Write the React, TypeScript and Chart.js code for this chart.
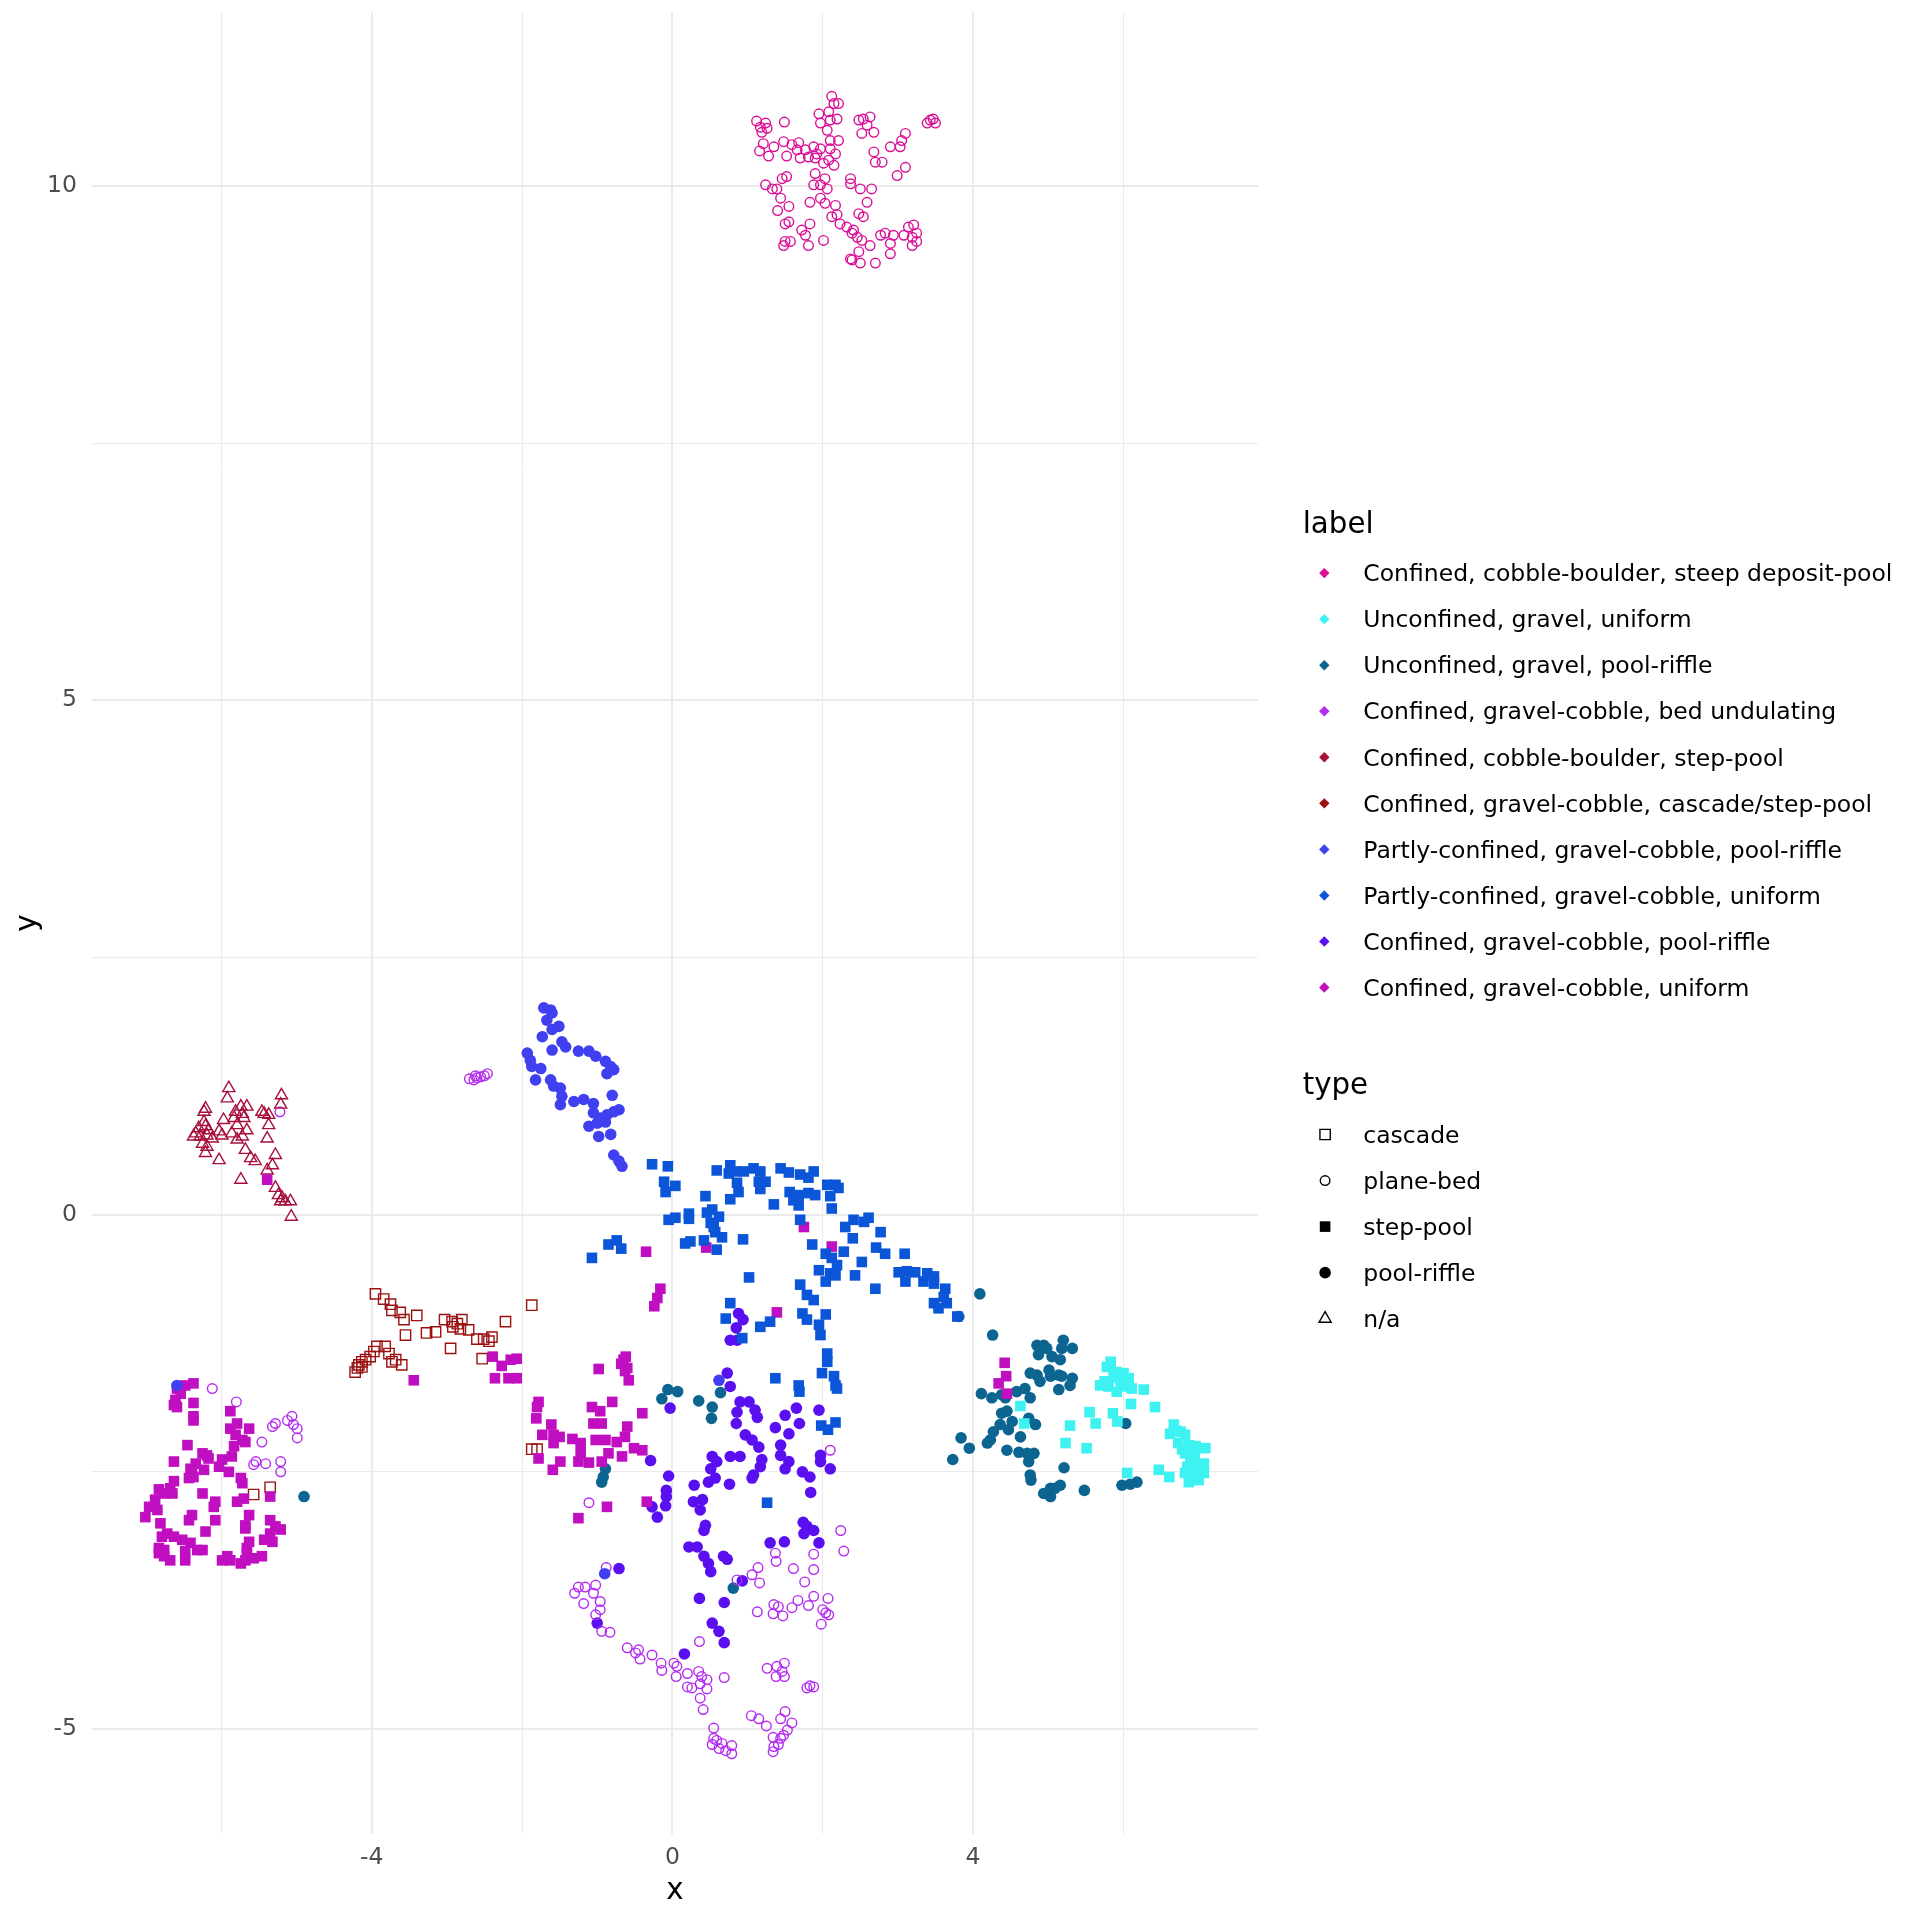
import React, { useEffect, useRef } from "react";
import { Chart, registerables } from "chart.js";

Chart.register(...registerables);

type Pt = [number, number];

const FONT = '"DejaVu Sans", "Liberation Sans", sans-serif';

const labelNames = [
  "Confined, cobble-boulder, steep deposit-pool",
  "Unconfined, gravel, uniform",
  "Unconfined, gravel, pool-riffle",
  "Confined, gravel-cobble, bed undulating",
  "Confined, cobble-boulder, step-pool",
  "Confined, gravel-cobble, cascade/step-pool",
  "Partly-confined, gravel-cobble, pool-riffle",
  "Partly-confined, gravel-cobble, uniform",
  "Confined, gravel-cobble, pool-riffle",
  "Confined, gravel-cobble, uniform",
];
const labelColors = [
  "#DA0E95",
  "#3EF2F2",
  "#0B6590",
  "#B32AF0",
  "#A8103C",
  "#9B1111",
  "#4040F0",
  "#0B55D8",
  "#5A0FF0",
  "#C00FC0",
];
const typeNames = ["cascade", "plane-bed", "step-pool", "pool-riffle", "n/a"];

const xGridValues = [-6, -4, -2, 0, 2, 4, 6];
const xLabeledTicks = [-4, 0, 4];
const yGridValues = [-5, -2.5, 0, 2.5, 5, 7.5, 10];
const yLabeledTicks = [-5, 0, 5, 10];
const xRange = [-7.72, 7.79];
const yRange = [-6.02, 11.69];

const steepDepositPool: Pt[] = [
  [1.12,10.63],[1.17,10.57],[1.24,10.61],[1.19,10.52],[1.26,10.56],[1.49,10.62],[1.21,10.41],[1.16,10.34],[1.28,10.29],[1.35,10.38],
  [1.48,10.43],[1.52,10.29],[1.59,10.40],[1.66,10.35],[1.70,10.27],[1.68,10.42],[1.77,10.35],[1.81,10.28],[1.88,10.38],[1.92,10.31],
  [1.97,10.36],[1.95,10.70],[1.97,10.61],[2.06,10.54],[2.10,10.64],[2.08,10.72],[2.15,10.80],[2.12,10.87],[2.21,10.80],[2.19,10.65],
  [2.21,10.44],[2.10,10.44],[2.10,10.36],[2.17,10.31],[2.08,10.25],[2.15,10.20],[2.01,10.22],[1.90,10.27],[1.90,10.12],[1.88,10.01],
  [1.97,10.01],[2.03,10.07],[2.06,9.97],[1.97,9.88],[1.83,9.84],[2.03,9.83],[2.17,9.81],[2.12,9.70],[2.19,9.72],[2.23,9.63],
  [2.32,9.60],[2.41,9.57],[2.46,9.50],[2.52,9.47],[2.39,9.54],[2.37,10.07],[2.37,10.02],[2.50,9.97],[2.65,9.97],[2.59,9.84],
  [2.48,9.73],[2.54,9.70],[2.63,9.42],[2.48,9.36],[2.37,9.29],[2.50,9.25],[2.70,9.25],[2.39,9.28],[1.24,10.01],[1.33,9.97],
  [1.39,9.97],[1.46,10.07],[1.52,10.09],[1.44,9.88],[1.55,9.80],[1.40,9.76],[1.50,9.63],[1.55,9.65],[1.50,9.46],[1.48,9.42],
  [1.57,9.46],[1.72,9.57],[1.77,9.52],[1.83,9.63],[1.81,9.42],[2.01,9.47],[2.48,10.64],[2.54,10.65],[2.63,10.67],[2.59,10.59],
  [2.52,10.51],[2.68,10.52],[2.68,10.33],[2.70,10.23],[2.79,10.23],[2.90,10.38],[3.03,10.38],[3.05,10.44],[3.10,10.51],[3.10,10.18],
  [2.99,10.10],[2.77,9.52],[2.83,9.54],[2.90,9.44],[2.94,9.52],[3.08,9.52],[3.14,9.60],[3.21,9.62],[3.19,9.50],[3.25,9.54],
  [3.19,9.42],[3.25,9.46],[2.90,9.34],[3.43,10.64],[3.47,10.65],[3.50,10.61],[3.39,10.61],
];

const gravelUniform: Pt[] = [
  [5.83,-1.43],[5.78,-1.48],[5.91,-1.53],[6.00,-1.54],[6.07,-1.59],[5.69,-1.66],[5.80,-1.67],[5.91,-1.72],[5.98,-1.67],[6.11,-1.69],
  [6.27,-1.70],[5.96,-1.61],[6.10,-1.84],[6.42,-1.87],[4.63,-1.86],[4.68,-2.03],[5.55,-1.92],[5.63,-2.03],[5.86,-1.93],[5.92,-2.01],
  [5.29,-2.05],[5.23,-2.22],[5.51,-2.27],[6.67,-2.04],[6.62,-2.13],[6.76,-2.11],[6.82,-2.14],[6.73,-2.22],[6.87,-2.24],[6.96,-2.25],
  [7.09,-2.27],[6.82,-2.32],[6.89,-2.38],[7.07,-2.42],[6.93,-2.45],[6.82,-2.51],[6.93,-2.55],[7.00,-2.58],[7.07,-2.51],[6.87,-2.60],
  [6.47,-2.48],[6.61,-2.55],[6.05,-2.51],[6.78,-2.28],[6.95,-2.35],[6.85,-2.45],[6.98,-2.48],[6.70,-2.10],[5.87,-1.58],[5.75,-1.62],
];

const gravelPoolRiffle: Pt[] = [
  [4.09,-0.77],[3.81,-0.99],[4.26,-1.17],[4.85,-1.27],[4.94,-1.27],[4.87,-1.36],[4.98,-1.30],[5.05,-1.38],[5.16,-1.41],[5.20,-1.22],
  [5.18,-1.30],[5.32,-1.30],[4.76,-1.54],[4.85,-1.56],[4.89,-1.62],[5.01,-1.51],[5.03,-1.57],[5.14,-1.56],[5.18,-1.57],[5.32,-1.59],
  [5.29,-1.66],[5.14,-1.70],[4.11,-1.74],[4.25,-1.78],[4.38,-1.75],[4.43,-1.78],[4.58,-1.72],[4.69,-1.69],[4.76,-1.78],[4.38,-1.93],
  [4.45,-1.91],[4.52,-2.01],[4.47,-2.09],[4.36,-2.04],[4.27,-2.11],[4.23,-2.19],[4.19,-2.22],[4.74,-1.98],[4.83,-2.04],[4.63,-2.16],
  [4.45,-2.29],[4.61,-2.31],[4.72,-2.32],[4.81,-2.32],[4.74,-2.40],[3.84,-2.17],[3.95,-2.27],[3.73,-2.38],[4.76,-2.53],[4.77,-2.58],
  [5.21,-2.46],[4.94,-2.71],[5.03,-2.74],[5.09,-2.66],[5.16,-2.63],[5.03,-2.66],[5.48,-2.68],[5.98,-2.63],[6.09,-2.62],[6.18,-2.60],
  [6.03,-2.03],[-0.89,-2.47],[-0.92,-2.55],[-0.94,-2.60],[-4.90,-2.74],[0.64,-1.73],[-0.14,-1.79],[-0.06,-1.70],[0.07,-1.72],[0.35,-1.81],
  [0.53,-1.87],[0.52,-1.98],[0.81,-3.63],
];

const bedUndulating: Pt[] = [
  [2.10,-2.29],[2.24,-3.07],[2.28,-3.27],[1.37,-3.29],[1.38,-3.37],[1.61,-3.44],[1.88,-3.30],[1.88,-3.45],[1.76,-3.57],[1.14,-3.43],
  [1.06,-3.50],[1.16,-3.58],[0.86,-3.55],[1.35,-3.79],[1.41,-3.81],[1.34,-3.88],[1.47,-3.90],[1.59,-3.82],[1.67,-3.75],[1.81,-3.80],
  [1.88,-3.71],[2.07,-3.73],[2.00,-3.84],[2.04,-3.87],[2.08,-3.89],[1.98,-3.98],[1.13,-3.86],[-0.88,-3.43],[-1.16,-3.62],[-1.02,-3.60],
  [-1.05,-3.68],[-0.96,-3.76],[-1.18,-3.78],[-0.96,-3.84],[-1.02,-3.89],[-0.94,-4.05],[-0.83,-4.06],[-0.60,-4.21],[-0.49,-4.26],[-0.45,-4.23],
  [-0.43,-4.32],[-0.27,-4.28],[-0.15,-4.36],[-0.14,-4.43],[0.02,-4.36],[0.06,-4.39],[0.05,-4.49],[0.20,-4.46],[0.35,-4.44],[0.39,-4.49],
  [0.37,-4.56],[0.26,-4.60],[0.20,-4.59],[0.46,-4.52],[0.46,-4.61],[0.37,-4.70],[0.41,-4.81],[0.36,-4.15],[0.69,-4.50],[1.26,-4.41],
  [1.39,-4.39],[1.49,-4.36],[1.46,-4.44],[1.38,-4.49],[1.49,-4.49],[1.79,-4.60],[1.83,-4.58],[1.88,-4.59],[1.05,-4.87],[1.15,-4.90],
  [1.25,-4.97],[1.44,-4.90],[1.50,-4.83],[1.59,-4.94],[1.53,-5.01],[1.48,-5.06],[1.44,-5.09],[1.34,-5.08],[1.35,-5.17],[1.34,-5.22],
  [1.41,-5.15],[0.55,-4.99],[0.55,-5.09],[0.59,-5.11],[0.66,-5.14],[0.62,-5.19],[0.71,-5.21],[0.79,-5.24],[0.79,-5.16],[0.53,-5.15],
  [-6.12,-1.69],[-5.80,-1.82],[-5.46,-2.21],[-5.32,-2.06],[-5.28,-2.03],[-5.12,-2.00],[-5.06,-1.96],[-5.04,-2.04],[-4.99,-2.08],[-4.99,-2.17],
  [-5.54,-2.40],[-5.57,-2.43],[-5.41,-2.42],[-5.21,-2.40],[-5.21,-2.50],[-1.11,-2.80],[-5.22,1.00],[-2.70,1.32],[-2.64,1.31],[-2.60,1.33],
  [-2.55,1.34],[-2.50,1.35],[-2.46,1.37],[-2.62,1.35],[-1.30,-3.68],[-1.25,-3.62],
];

const cobbleBoulderStepPool: Pt[] = [
  [-5.90,1.23],[-5.92,1.13],[-6.21,1.03],[-6.23,1.00],[-5.74,1.05],[-5.66,1.05],[-5.81,1.00],[-5.72,0.98],[-5.83,0.94],[-5.70,0.94],
  [-5.97,0.92],[-6.23,0.90],[-6.30,0.84],[-6.34,0.79],[-6.21,0.86],[-6.17,0.82],[-6.37,0.76],[-6.28,0.76],[-6.19,0.77],[-6.12,0.74],
  [-6.03,0.81],[-5.99,0.77],[-5.79,0.87],[-5.66,0.82],[-5.72,0.76],[-5.79,0.73],[-6.25,0.69],[-6.19,0.66],[-6.21,0.60],[-6.03,0.53],
  [-5.68,0.63],[-5.61,0.55],[-5.55,0.52],[-5.74,0.34],[-5.43,0.98],[-5.37,0.97],[-5.37,0.87],[-5.39,0.74],[-5.28,0.58],[-5.32,0.48],
  [-5.39,0.43],[-5.20,1.16],[-5.21,1.07],[-5.28,0.26],[-5.24,0.19],[-5.19,0.16],[-5.15,0.13],[-5.21,0.13],[-5.08,0.13],[-5.07,-0.02],
  [-5.46,1.00],[-5.86,0.79],
];

const cascadeStepPool: Pt[] = [
  [-3.95,-0.77],[-3.84,-0.82],[-3.75,-0.87],[-3.73,-0.93],[-3.62,-0.95],[-3.57,-1.02],[-3.40,-0.98],[-3.55,-1.17],[-3.27,-1.15],[-3.15,-1.14],
  [-3.03,-1.02],[-2.93,-1.04],[-2.92,-1.09],[-2.86,-1.06],[-2.80,-1.02],[-2.82,-1.11],[-2.71,-1.12],[-2.60,-1.21],[-2.51,-1.21],[-2.44,-1.23],
  [-2.40,-1.19],[-2.22,-1.04],[-2.95,-1.30],[-2.53,-1.40],[-1.87,-0.88],[-3.93,-1.28],[-3.97,-1.33],[-4.02,-1.38],[-4.08,-1.41],[-4.13,-1.43],
  [-4.17,-1.46],[-4.19,-1.49],[-4.22,-1.53],[-4.13,-1.48],[-3.82,-1.28],[-3.77,-1.35],[-3.73,-1.43],[-3.68,-1.41],[-3.60,-1.46],[-1.87,-2.28],
  [-1.80,-2.28],[-5.57,-2.72],[-5.35,-2.65],
];

const partlyPoolRiffle: Pt[] = [
  [-1.71,2.01],[-1.62,1.99],[-1.60,1.96],[-1.67,1.89],[-1.51,1.83],[-1.60,1.80],[-1.73,1.73],[-1.47,1.68],[-1.42,1.63],[-1.60,1.60],
  [-1.25,1.59],[-1.11,1.59],[-1.02,1.54],[-0.89,1.49],[-0.82,1.44],[-0.78,1.41],[-0.87,1.37],[-1.93,1.57],[-1.89,1.50],[-1.87,1.44],
  [-1.75,1.42],[-1.82,1.31],[-1.62,1.31],[-1.58,1.25],[-1.49,1.23],[-1.47,1.15],[-1.49,1.07],[-1.31,1.10],[-1.18,1.12],[-1.05,1.08],
  [-1.05,0.99],[-0.96,0.94],[-0.87,0.97],[-0.78,1.00],[-0.71,1.02],[-0.89,0.90],[-1.00,0.89],[-1.11,0.86],[-0.98,0.76],[-0.82,0.78],
  [-0.80,1.16],[-0.78,0.58],[-0.71,0.52],[-0.67,0.47],[-6.59,-1.66],[0.62,-1.61],[-0.90,-3.49],
];

const partlyUniform: Pt[] = [
  [-0.27,0.49],[-0.06,0.47],[-0.11,0.32],[-0.09,0.22],[0.04,0.28],[0.59,0.43],[0.77,0.48],[0.75,0.40],[0.84,0.42],[0.95,0.42],
  [1.08,0.45],[1.17,0.42],[1.15,0.32],[1.24,0.32],[1.17,0.25],[0.86,0.31],[0.88,0.22],[0.77,0.15],[0.44,0.18],[1.44,0.45],
  [1.55,0.41],[1.70,0.39],[1.81,0.36],[1.88,0.42],[1.56,0.22],[1.68,0.19],[1.61,0.14],[1.68,0.09],[1.81,0.21],[1.90,0.19],
  [1.35,0.10],[2.06,0.29],[2.17,0.29],[2.21,0.26],[2.10,0.18],[2.12,0.06],[-0.05,-0.05],[0.04,-0.03],[0.22,0.01],[0.22,-0.04],
  [0.46,0.02],[0.53,0.05],[0.62,-0.02],[0.51,-0.08],[0.55,-0.12],[0.57,-0.17],[0.66,-0.22],[0.17,-0.28],[0.24,-0.26],[0.42,-0.25],
  [0.59,-0.34],[0.94,-0.24],[1.70,-0.05],[2.30,-0.12],[2.41,-0.05],[2.55,-0.07],[2.61,-0.03],[2.77,-0.17],[2.40,-0.23],[2.71,-0.32],
  [2.83,-0.38],[3.09,-0.38],[1.86,-0.29],[2.04,-0.38],[2.12,-0.42],[2.28,-0.36],[2.19,-0.49],[1.95,-0.54],[2.10,-0.57],[2.04,-0.65],
  [2.17,-0.59],[2.52,-0.46],[2.43,-0.59],[2.70,-0.72],[3.01,-0.56],[3.12,-0.55],[3.10,-0.65],[3.23,-0.56],[3.39,-0.57],[3.48,-0.60],
  [3.34,-0.65],[3.48,-0.67],[3.63,-0.72],[3.61,-0.80],[3.48,-0.86],[3.65,-0.86],[3.54,-0.91],[3.79,-0.99],[1.70,-0.68],[1.79,-0.78],
  [1.88,-0.83],[1.73,-0.96],[1.79,-1.02],[2.04,-0.97],[1.95,-1.07],[1.02,-0.61],[0.77,-0.86],[0.71,-1.01],[1.17,-1.09],[1.30,-1.04],
  [-1.07,-0.42],[-0.85,-0.29],[-0.74,-0.25],[-0.68,-0.33],[0.93,-1.20],[1.97,-1.17],[2.06,-1.35],[2.06,-1.43],[1.99,-1.54],[2.15,-1.57],
  [2.17,-1.66],[2.19,-1.69],[1.37,-1.59],[1.68,-1.66],[1.69,-1.72],[1.98,-2.05],[2.07,-2.09],[2.17,-2.02],[1.26,-2.80],
];

const confinedPoolRiffle: Pt[] = [
  [0.77,-1.22],[0.86,-1.22],[0.73,-1.54],[0.77,-1.67],[0.90,-1.82],[1.02,-1.82],[1.10,-1.90],[1.13,-1.97],[0.86,-1.92],[0.85,-2.03],
  [0.97,-2.14],[1.06,-2.19],[1.15,-2.26],[1.37,-2.07],[1.50,-1.95],[1.65,-1.88],[1.69,-2.03],[1.55,-2.13],[1.95,-1.90],[1.44,-2.24],
  [1.44,-2.34],[1.55,-2.40],[1.50,-2.47],[1.19,-2.38],[1.17,-2.45],[1.08,-2.53],[1.06,-2.56],[1.97,-2.34],[1.97,-2.40],[2.10,-2.47],
  [1.73,-2.50],[1.83,-2.55],[1.84,-2.70],[0.77,-2.35],[0.90,-2.35],[0.53,-2.35],[0.59,-2.40],[0.51,-2.47],[0.57,-2.56],[0.48,-2.60],
  [0.76,-2.62],[0.29,-2.63],[0.28,-2.79],[0.40,-2.77],[0.37,-2.87],[0.44,-3.02],[0.42,-3.07],[-0.03,-1.88],[-0.05,-2.54],[-0.08,-2.68],
  [-0.08,-2.74],[-0.09,-2.83],[-0.27,-2.84],[-0.20,-2.94],[-0.29,-2.39],[1.74,-2.99],[1.79,-3.03],[1.88,-3.07],[1.95,-3.19],[1.75,-3.10],
  [1.30,-3.19],[1.49,-3.18],[0.22,-3.23],[0.33,-3.23],[0.42,-3.32],[0.48,-3.39],[0.51,-3.47],[0.68,-3.32],[0.73,-3.35],[0.93,-3.56],
  [0.36,-3.73],[0.69,-3.77],[0.53,-3.97],[0.62,-4.05],[0.69,-4.16],[0.16,-4.27],[-0.71,-3.44],[-1.00,-3.97],[0.88,-0.96],[0.94,-1.02],
  [0.85,-1.10],
];

const confinedUniform: Pt[] = [
  [-6.59,-1.69],[-6.48,-1.66],[-6.37,-1.64],[-6.54,-1.74],[-6.61,-1.80],[-6.59,-1.87],[-6.63,-1.85],[-6.37,-1.83],[-6.37,-1.96],[-6.37,-2.00],
  [-6.45,-2.24],[-5.88,-1.91],[-5.79,-2.03],[-5.88,-2.08],[-5.63,-2.08],[-5.81,-2.14],[-5.72,-2.19],[-5.68,-2.21],[-5.83,-2.25],[-5.86,-2.35],
  [-6.63,-2.40],[-6.25,-2.32],[-6.19,-2.34],[-6.17,-2.37],[-6.34,-2.42],[-6.41,-2.47],[-6.39,-2.51],[-6.23,-2.48],[-6.43,-2.56],[-6.37,-2.55],
  [-5.99,-2.38],[-6.03,-2.45],[-5.90,-2.50],[-5.74,-2.56],[-5.72,-2.61],[-6.63,-2.59],[-6.68,-2.66],[-6.83,-2.67],[-6.76,-2.71],[-6.65,-2.71],
  [-6.88,-2.77],[-6.96,-2.84],[-6.85,-2.87],[-7.01,-2.94],[-6.25,-2.71],[-6.08,-2.79],[-6.10,-2.84],[-5.79,-2.79],[-5.70,-2.76],[-5.35,-2.74],
  [-5.63,-2.92],[-5.68,-3.02],[-5.68,-3.05],[-5.35,-2.97],[-5.28,-3.03],[-5.21,-3.06],[-6.39,-2.92],[-6.43,-2.97],[-6.08,-2.97],[-6.21,-3.08],
  [-6.81,-3.00],[-6.72,-3.10],[-6.79,-3.13],[-6.63,-3.13],[-6.52,-3.16],[-6.41,-3.19],[-6.83,-3.24],[-6.76,-3.26],[-6.83,-3.29],[-6.68,-3.36],
  [-6.76,-3.32],[-6.48,-3.27],[-6.48,-3.36],[-6.32,-3.26],[-6.25,-3.26],[-5.63,-3.18],[-5.66,-3.24],[-5.43,-3.16],[-5.32,-3.18],[-5.35,-3.10],
  [-5.66,-3.29],[-5.68,-3.36],[-5.74,-3.39],[-5.88,-3.36],[-5.99,-3.36],[-5.92,-3.32],[-5.57,-3.34],[-5.46,-3.32],
  [-3.44,-1.61],[-2.39,-1.38],[-2.27,-1.47],[-2.15,-1.41],[-2.07,-1.40],[-2.36,-1.59],[-2.18,-1.59],[-2.07,-1.59],[-0.98,-1.50],[-0.65,-1.41],
  [-0.60,-1.49],[-0.58,-1.61],[-1.78,-1.82],[-1.80,-1.87],[-1.81,-1.98],[-1.61,-2.04],[-1.73,-2.14],[-1.58,-2.14],[-1.50,-2.16],[-1.58,-2.22],
  [-1.33,-2.18],[-1.22,-2.22],[-1.22,-2.32],[-1.25,-2.40],[-1.11,-2.41],[-1.07,-1.87],[-0.96,-1.91],[-0.80,-1.82],[-1.05,-2.03],[-0.94,-2.03],
  [-1.02,-2.19],[-0.89,-2.19],[-0.85,-2.32],[-0.94,-2.40],[-0.74,-2.21],[-0.63,-2.16],[-0.60,-2.06],[-0.51,-2.27],[-0.40,-2.29],[-0.67,-2.35],
  [-0.40,-1.93],[-1.78,-2.37],[-1.49,-2.40],[-1.59,-2.48],[-1.25,-2.95],[-0.87,-2.84],[-0.34,-2.79],[-0.62,-1.38],[-0.68,-1.45],[-0.63,-1.52],
  [1.75,-0.12],[2.12,-0.31],[1.39,-0.95],[-0.35,-0.36],[0.45,-0.32],[-0.16,-0.72],[-0.20,-0.81],[-0.24,-0.89],[-5.39,0.34],[4.42,-1.44],
  [4.44,-1.57],[4.34,-1.64],[4.45,-1.74],
];

// series: label index, type index, points (draw order)
const seriesTable: { label: number; type: number; pts: Pt[] }[] = [
  { label: 6, type: 3, pts: partlyPoolRiffle },
  { label: 7, type: 2, pts: partlyUniform },
  { label: 9, type: 2, pts: confinedUniform },
  { label: 5, type: 0, pts: cascadeStepPool },
  { label: 4, type: 4, pts: cobbleBoulderStepPool },
  { label: 3, type: 1, pts: bedUndulating },
  { label: 8, type: 3, pts: confinedPoolRiffle },
  { label: 1, type: 2, pts: gravelUniform },
  { label: 2, type: 3, pts: gravelPoolRiffle },
  { label: 0, type: 1, pts: steepDepositPool },
];

function typeStyle(t: number) {
  switch (t) {
    case 0: return { pointStyle: "rect", radius: 7.3, fill: false, bw: 1.4 };
    case 1: return { pointStyle: "circle", radius: 4.8, fill: false, bw: 1.4 };
    case 2: return { pointStyle: "rect", radius: 7.5, fill: true, bw: 0 };
    case 3: return { pointStyle: "circle", radius: 5.8, fill: true, bw: 0 };
    default: return { pointStyle: "triangle", radius: 7.0, fill: false, bw: 1.4 };
  }
}

function drawKeyShape(ctx: CanvasRenderingContext2D, t: number, x: number, y: number) {
  const s = typeStyle(t);
  ctx.save();
  ctx.strokeStyle = "#000000";
  ctx.fillStyle = "#000000";
  ctx.lineWidth = s.bw || 1;
  ctx.beginPath();
  if (s.pointStyle === "rect") {
    const h = Math.SQRT1_2 * s.radius;
    ctx.rect(x - h, y - h, 2 * h, 2 * h);
  } else if (s.pointStyle === "circle") {
    ctx.arc(x, y, s.radius, 0, Math.PI * 2);
  } else {
    const r = s.radius;
    let a = 0;
    ctx.moveTo(x + Math.sin(a) * r, y - Math.cos(a) * r);
    a += (2 * Math.PI) / 3;
    ctx.lineTo(x + Math.sin(a) * r, y - Math.cos(a) * r);
    a += (2 * Math.PI) / 3;
    ctx.lineTo(x + Math.sin(a) * r, y - Math.cos(a) * r);
    ctx.closePath();
  }
  if (s.fill) ctx.fill();
  else ctx.stroke();
  ctx.restore();
}

const ggExtras = {
  id: "ggExtras",
  afterDraw(chart: any) {
    const { ctx, chartArea } = chart;
    ctx.save();
    ctx.fillStyle = "#000000";
    ctx.font = `29.3px ${FONT}`;
    ctx.textAlign = "center";
    ctx.textBaseline = "alphabetic";
    ctx.fillText("x", (chartArea.left + chartArea.right) / 2, 1899);
    ctx.save();
    ctx.translate(35.5, (chartArea.top + chartArea.bottom) / 2);
    ctx.rotate(-Math.PI / 2);
    ctx.fillText("y", 0, 0);
    ctx.restore();

    const titleX = chartArea.right + 44.7;
    const keyX = chartArea.right + 66.3;
    const textX = chartArea.right + 105.3;
    const step = 46.05;
    ctx.textAlign = "left";
    ctx.fillText("label", titleX, 533.2);
    ctx.font = `23.5px ${FONT}`;
    labelNames.forEach((name, i) => {
      const cy = 573.1 + i * step;
      const d = 5.2;
      ctx.beginPath();
      ctx.moveTo(keyX, cy - d);
      ctx.lineTo(keyX + d, cy);
      ctx.lineTo(keyX, cy + d);
      ctx.lineTo(keyX - d, cy);
      ctx.closePath();
      ctx.fillStyle = labelColors[i];
      ctx.fill();
      ctx.fillStyle = "#000000";
      ctx.fillText(name, textX, cy + 8.2);
    });

    ctx.font = `29.3px ${FONT}`;
    ctx.fillText("type", titleX, 1094.3);
    ctx.font = `23.5px ${FONT}`;
    typeNames.forEach((name, i) => {
      const cy = 1134.5 + i * 46.05;
      drawKeyShape(ctx, i, keyX + 0.8, cy);
      ctx.fillStyle = "#000000";
      ctx.fillText(name, textX, cy + 8.2);
    });
    ctx.restore();
  },
};

export default function App() {
  const canvasRef = useRef<HTMLCanvasElement | null>(null);

  useEffect(() => {
    document.body.style.margin = "0";
    const canvas = canvasRef.current;
    if (!canvas) return;

    const datasets = seriesTable.map((s) => {
      const st = typeStyle(s.type);
      const color = labelColors[s.label];
      return {
        label: `${labelNames[s.label]} / ${typeNames[s.type]}`,
        data: s.pts.map(([x, y]) => ({ x, y })),
        showLine: false,
        pointStyle: st.pointStyle,
        pointRadius: st.radius,
        pointHoverRadius: st.radius,
        pointBorderWidth: st.bw,
        pointHoverBorderWidth: st.bw,
        borderColor: color,
        pointBorderColor: color,
        backgroundColor: st.fill ? color : "rgba(0,0,0,0)",
        pointBackgroundColor: st.fill ? color : "rgba(0,0,0,0)",
      };
    });

    const chart = new Chart(canvas, {
      type: "scatter",
      data: { datasets: datasets as any },
      plugins: [ggExtras],
      options: {
        animation: false,
        responsive: false,
        devicePixelRatio: 1,
        events: [],
        layout: { padding: { left: 0, top: 12, right: 662, bottom: 0 } },
        plugins: {
          legend: { display: false },
          tooltip: { enabled: false },
        },
        scales: {
          x: {
            type: "linear",
            min: xRange[0],
            max: xRange[1],
            afterBuildTicks: (axis: any) => {
              axis.ticks = xGridValues.map((v) => ({ value: v }));
            },
            afterFit: (axis: any) => {
              axis.height = 86;
              axis.paddingLeft = 0;
              axis.paddingRight = 0;
            },
            ticks: {
              autoSkip: false,
              maxRotation: 0,
              minRotation: 0,
              padding: 10,
              color: "#4D4D4D",
              font: { family: FONT, size: 23.5 },
              callback: (v: any) => (xLabeledTicks.includes(Number(v)) ? String(v) : ""),
            },
            grid: {
              color: "#EBEBEB",
              drawTicks: false,
              lineWidth: (c: any) => (c.tick && xLabeledTicks.includes(c.tick.value) ? 2 : 1),
            },
            border: { display: false },
          },
          y: {
            type: "linear",
            min: yRange[0],
            max: yRange[1],
            afterBuildTicks: (axis: any) => {
              axis.ticks = yGridValues.map((v) => ({ value: v }));
            },
            afterFit: (axis: any) => {
              axis.width = 92;
              axis.paddingTop = 0;
              axis.paddingBottom = 0;
            },
            ticks: {
              autoSkip: false,
              padding: 15,
              color: "#4D4D4D",
              font: { family: FONT, size: 23.5 },
              callback: (v: any) => (yLabeledTicks.includes(Number(v)) ? String(v) : ""),
            },
            grid: {
              color: "#EBEBEB",
              drawTicks: false,
              lineWidth: (c: any) => (c.tick && yLabeledTicks.includes(c.tick.value) ? 2 : 1),
            },
            border: { display: false },
          },
        },
      } as any,
    });

    return () => {
      chart.destroy();
    };
  }, []);

  return (
    <div style={{ width: 1920, height: 1920, position: "relative", background: "#FFFFFF" }}>
      <canvas
        ref={canvasRef}
        width={1920}
        height={1920}
        style={{ display: "block", width: 1920, height: 1920 }}
      />
    </div>
  );
}
